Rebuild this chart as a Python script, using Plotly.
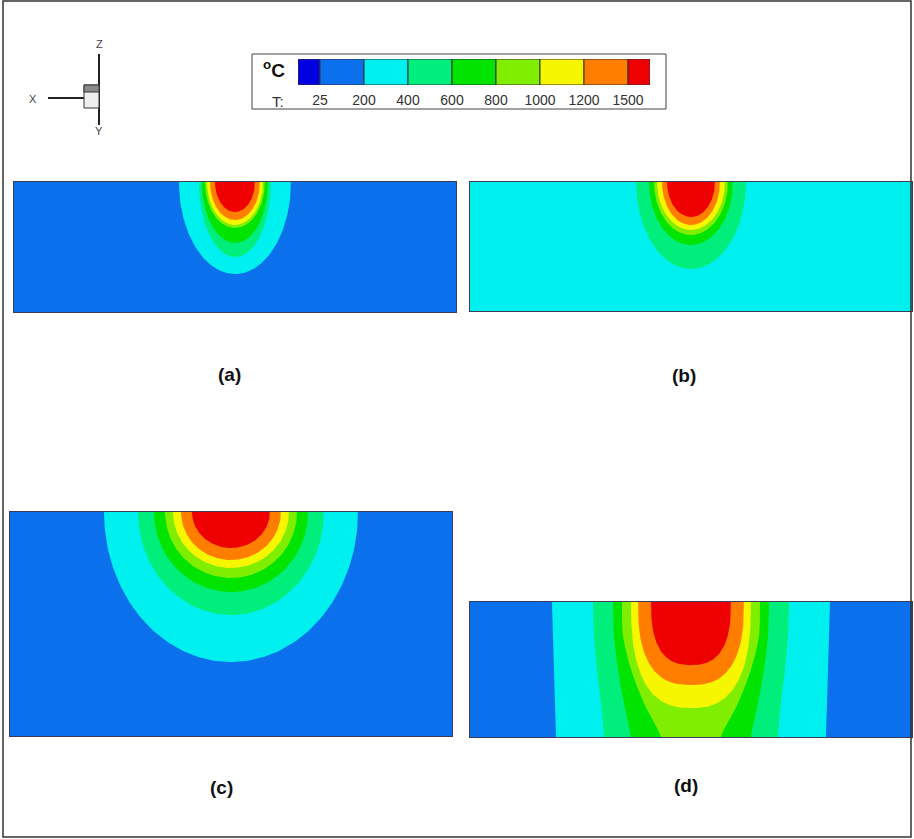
import numpy as np
import plotly.graph_objects as go

FIG_W, FIG_H = 914, 839

# ---------------- data ----------------
levels = [25, 200, 400, 600, 800, 1000, 1200, 1500]
level_labels = ["25", "200", "400", "600", "800", "1000", "1200", "1500"]
band_colors = ["#0000e0", "#0b70ec", "#00f0f0", "#00ee7c", "#00e400",
               "#80ee00", "#f6f600", "#ff7e00", "#ee0000"]

# panel (a): ambient band 25-200, semi-elliptic isotherms (half-width, depth)
a_levels = [200, 400, 600, 800, 1000, 1200, 1500]
a_half_width = [56, 36, 33, 30, 28, 25, 20]
a_depth = [92, 75, 61, 46, 43, 38, 30]

# panel (b): ambient band 200-400
b_levels = [400, 600, 800, 1000, 1200, 1500]
b_half_width = [55, 42, 37, 34, 29, 24]
b_depth = [87, 63, 53, 48, 43, 35]

# panel (c)
c_levels = [200, 400, 600, 800, 1000, 1200, 1500]
c_half_width = [127, 93, 77, 66, 58, 50, 39]
c_depth = [150, 103, 80, 66, 56, 48, 36]

# panel (d): isotherms crossing the full thickness (half-width at depth fractions)
d_depth_frac = [0.0, 0.25, 0.5, 0.75, 1.0]
d_open_levels = [200, 400, 600, 800]
d_open_half_width = [
    [139, 138, 137, 136, 135],
    [98, 97, 94, 90, 87],
    [78, 77, 73, 67, 60],
    [69, 68, 60, 47, 30],
]
# closed U-shaped isotherms
d_closed_levels = [1000, 1200, 1500]
d_closed_half_width = [60, 53, 40]
d_closed_depth = [106, 83, 63]

# panel geometry (section width / thickness, same units)
panel_width = {"a": 442, "b": 442, "c": 442, "d": 442}
panel_thick = {"a": 130, "b": 129, "c": 224, "d": 135}
ambient_level = {"a": 25, "b": 200, "c": 25, "d": 25}

# ---------------- layout helpers ----------------
def px(x):
    return x / FIG_W

def py(y):
    return 1 - y / FIG_H

panel_box = {  # pixel boxes x0, x1, y0(top), y1(bottom)
    "a": (14, 456, 182, 312),
    "b": (470, 912, 182, 311),
    "c": (10, 452, 512, 736),
    "d": (470, 912, 602, 737),
}
panel_label_pos = {"a": (230, 374), "b": (684, 375), "c": (221, 787), "d": (686, 785)}


def color_above(level):
    return band_colors[levels.index(level) + 1]


def semi_ellipse(w, d, p=2.0, n=120):
    t = np.linspace(0, np.pi, n)
    c, s = np.cos(t), np.sin(t)
    x = w * np.sign(c) * np.abs(c) ** (2 / p)
    y = -d * np.abs(s) ** (2 / p)
    x = np.concatenate([[w], x, [-w]])
    y = np.concatenate([[5], y, [5]])
    return x, y


fig = go.Figure()
layout_axes = {}
line_col = "#3c3c5a"

for i, key in enumerate(["a", "b", "c", "d"], start=1):
    xa = "x" if i == 1 else f"x{i}"
    ya = "y" if i == 1 else f"y{i}"
    W = panel_width[key]
    T = panel_thick[key]
    x0, x1, y0, y1 = panel_box[key]

    # ambient band fills whole section
    base_col = color_above(ambient_level[key])
    fig.add_trace(go.Scatter(
        x=[-W, W, W, -W, -W], y=[10, 10, -T - 10, -T - 10, 10],
        fill="toself", fillcolor=base_col, mode="lines", line=dict(width=0, color=base_col),
        hoverinfo="skip", xaxis=xa, yaxis=ya))

    if key in ("a", "b", "c"):
        lv = {"a": a_levels, "b": b_levels, "c": c_levels}[key]
        hw = {"a": a_half_width, "b": b_half_width, "c": c_half_width}[key]
        dp = {"a": a_depth, "b": b_depth, "c": c_depth}[key]
        for L, w, d in zip(lv, hw, dp):
            ex, ey = semi_ellipse(w, d)
            col = color_above(L)
            fig.add_trace(go.Scatter(x=ex, y=ey, fill="toself", fillcolor=col, mode="lines",
                                     line=dict(width=0, color=col), hoverinfo="skip",
                                     xaxis=xa, yaxis=ya))
    else:
        for L, hw in zip(d_open_levels, d_open_half_width):
            zs = [-f * T for f in d_depth_frac]
            zs_ext = [8] + zs + [-T - 8]
            hw_ext = [hw[0]] + hw + [hw[-1]]
            xs = [-h for h in hw_ext] + [h for h in hw_ext[::-1]]
            ys = zs_ext + zs_ext[::-1]
            col = color_above(L)
            fig.add_trace(go.Scatter(x=xs, y=ys, fill="toself", fillcolor=col, mode="lines",
                                     line=dict(width=0, color=col, shape="spline", smoothing=0.8),
                                     hoverinfo="skip", xaxis=xa, yaxis=ya))
        for L, w, d in zip(d_closed_levels, d_closed_half_width, d_closed_depth):
            ex, ey = semi_ellipse(w, d, p=2.6)
            col = color_above(L)
            fig.add_trace(go.Scatter(x=ex, y=ey, fill="toself", fillcolor=col, mode="lines",
                                     line=dict(width=0, color=col), hoverinfo="skip",
                                     xaxis=xa, yaxis=ya))

    ax_common = dict(showgrid=False, zeroline=False, showticklabels=False, ticks="",
                     showline=True, mirror=True, linecolor=line_col, linewidth=1,
                     fixedrange=True)
    layout_axes["xaxis" if i == 1 else f"xaxis{i}"] = dict(
        domain=[px(x0), px(x1)], range=[-W / 2, W / 2], anchor=ya, **ax_common)
    layout_axes["yaxis" if i == 1 else f"yaxis{i}"] = dict(
        domain=[py(y1), py(y0)], range=[-T, 0], anchor=xa, **ax_common)

# ---------------- legend (colour key) ----------------
n_b = len(band_colors)
key_centers = [0.25] + [k + 1.0 for k in range(n_b - 2)] + [n_b - 1.25]
key_widths = [0.5] + [1.0] * (n_b - 2) + [0.5]
fig.add_trace(go.Bar(x=key_centers, y=[1] * n_b, width=key_widths, base=0,
                     marker=dict(color=band_colors, line=dict(color="#333333", width=1)),
                     hoverinfo="skip", xaxis="x5", yaxis="y5"))
layout_axes["xaxis5"] = dict(domain=[px(298), px(650)], range=[0, n_b - 1], anchor="y5",
                             showgrid=False, zeroline=False, showline=False, ticks="",
                             tickvals=[k + 0.5 for k in range(len(levels))],
                             ticktext=level_labels, ticklabelstandoff=5,
                             tickfont=dict(family="Liberation Sans, Arial", size=14, color="#333333"),
                             fixedrange=True)
layout_axes["yaxis5"] = dict(domain=[py(85), py(59)], range=[0, 1], anchor="x5",
                             showgrid=False, zeroline=False, showline=False,
                             showticklabels=False, ticks="", fixedrange=True)

shapes = []
annotations = []


def add_text(x, y, text, size, color, bold=False):
    annotations.append(dict(x=px(x), y=py(y), xref="paper", yref="paper", showarrow=False,
                            xanchor="center", yanchor="middle",
                            text=f"<b>{text}</b>" if bold else text,
                            font=dict(family="Liberation Sans, Arial", size=size, color=color)))


# legend box
shapes.append(dict(type="rect", xref="paper", yref="paper", x0=px(252), x1=px(666),
                   y0=py(109), y1=py(54), line=dict(color="#444444", width=1)))
add_text(274, 69, "<sup>o</sup>C", 19, "#111111", bold=True)
add_text(278, 101, "T:", 15, "#333333")

# axis triad
tri_col = "#222222"
shapes += [
    dict(type="line", xref="paper", yref="paper", x0=px(99), x1=px(99), y0=py(54), y1=py(125),
         line=dict(color=tri_col, width=2)),
    dict(type="line", xref="paper", yref="paper", x0=px(48), x1=px(84), y0=py(98), y1=py(98),
         line=dict(color=tri_col, width=2)),
    dict(type="rect", xref="paper", yref="paper", x0=px(84), x1=px(99), y0=py(108), y1=py(85),
         fillcolor="#eeeeee", line=dict(color="#333333", width=1)),
    dict(type="rect", xref="paper", yref="paper", x0=px(84), x1=px(99), y0=py(92), y1=py(85),
         fillcolor="#8a8a8a", line=dict(color="#333333", width=1)),
]
for t, (tx, ty) in {"Z": (99, 44), "X": (33, 99), "Y": (99, 131)}.items():
    add_text(tx, ty, t, 11, "#444444")

# outer frame
shapes.append(dict(type="rect", xref="paper", yref="paper", x0=px(3), x1=px(911),
                   y0=py(837), y1=py(1), line=dict(color="#333333", width=1.5)))

# panel labels
for key, (lx, ly) in panel_label_pos.items():
    add_text(lx, ly, f"({key})", 19, "#111111", bold=True)

fig.update_layout(width=FIG_W, height=FIG_H, margin=dict(l=0, r=0, t=0, b=0, pad=0),
                  paper_bgcolor="white", plot_bgcolor="white", showlegend=False,
                  shapes=shapes, annotations=annotations, **layout_axes)

fig.write_html("out.html")
